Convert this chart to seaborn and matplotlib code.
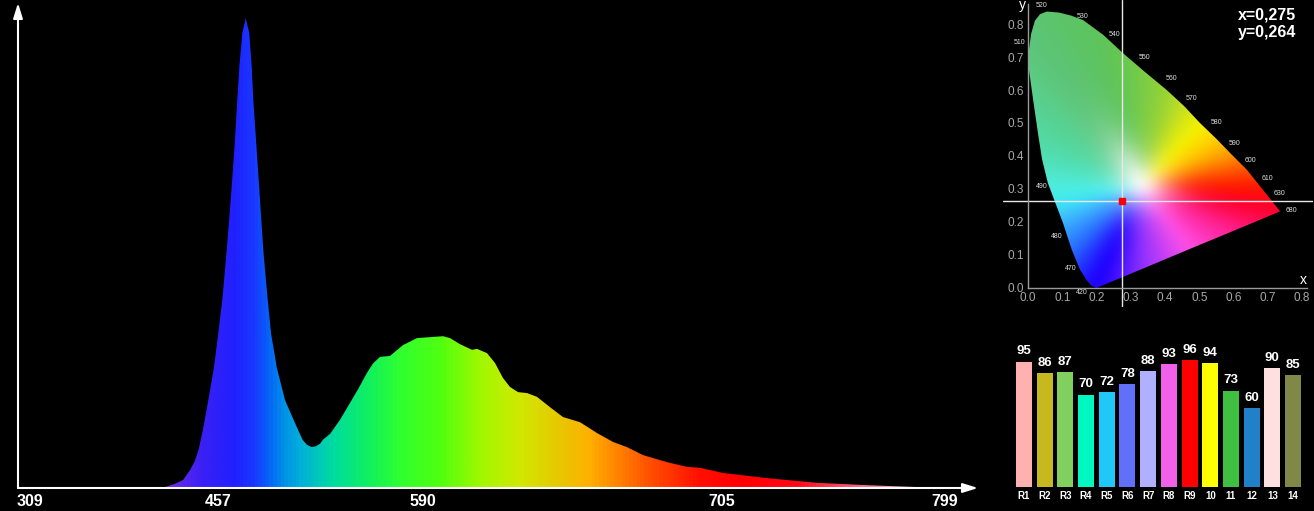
"""
LED spectrum + CIE 1931 chromaticity + CRI (R1..R14) panel
"""

import numpy as np
import matplotlib
matplotlib.use('Agg')
import matplotlib.pyplot as plt
from matplotlib.colors import LinearSegmentedColormap, to_rgb
from matplotlib.patches import Polygon
import seaborn as sns

# ========================================
# Data: spectrum (spectrometer channel -> relative intensity, %)
# ========================================
channel = [0, 132, 147, 157, 165, 172, 177, 181, 185, 190.3, 196, 200.3, 204.3,
           208.7, 212.7, 216.3, 219.3, 221.3, 224.3, 226.5, 227.7, 229, 231.3, 233.7,
           235.3, 238.7, 242, 245.3, 249.7, 253, 258.7, 267, 278.7, 284.7, 289, 293.7,
           298, 302, 305, 312, 322, 332, 340, 349, 355, 362, 372, 385, 399, 412, 425,
           432, 442, 454, 459, 469, 477, 485, 492, 500, 509, 519, 532, 545, 562, 579,
           595, 609, 625, 649, 669, 682, 705, 749, 799, 849, 899, 927, 960]
intensity = [0, 0, 0.2, 0.9, 1.7, 3.8, 5.8, 8.5, 12.5, 18.7, 25.7, 33, 40,
             50.6, 61.3, 71.9, 82.6, 89.6, 96.8, 98.8, 100, 98.8, 96.8, 89.6,
             82.6, 71.9, 61.3, 50.6, 40, 33, 25.7, 18.7, 13, 10.2, 9.2, 8.7,
             8.9, 9.4, 10.3, 11.5, 14.5, 18.1, 21, 24.5, 26.5, 27.9, 28.1, 30.4, 31.9, 32.1, 32.3,
             31.9, 30.6, 29.4, 29.6, 28.7, 26.6, 23.4, 21.5, 20.4, 20.2, 19.4, 17.2, 15.1, 14, 11.7,
             9.8, 8.7, 7, 5.5, 4.5, 4.3, 3.2, 2.1, 1.1, 0.6, 0.2, 0, 0]
tick_channels = [12, 200, 405, 704, 927]
tick_labels = ['309', '457', '590', '705', '799']

# colour ramp along the channel axis
grad_channels = [0, 132, 152, 182, 215, 235, 249, 265, 282, 315, 349, 382, 422,
                 462, 502, 542, 572, 602, 632, 682, 722, 782, 842, 892, 960]
grad_colors = ['#8a3ce0', '#8a3ce0', '#6a2ae8', '#3a20f5', '#2020ff', '#1838ff',
               '#0860f8', '#0090e8', '#00b0d8', '#00dca0', '#10f060', '#30ff30',
               '#50ff10', '#a0f800', '#d0e800', '#e8c800', '#ffb000', '#ff8000',
               '#ff5000', '#ff1000', '#ff0000', '#ff0818', '#ff6080', '#ffb0c0',
               '#ffffff']

# ========================================
# Data: CIE 1931 diagram
# ========================================
locus_x = [0.200, 0.186, 0.172, 0.152, 0.128, 0.102, 0.079, 0.058, 0.041, 0.029,
           0.015, 0.003, 0.000, 0.009, 0.020, 0.035, 0.055, 0.090, 0.125, 0.161,
           0.220, 0.277, 0.340, 0.405, 0.455, 0.502, 0.550, 0.590, 0.639, 0.686,
           0.736, 0.600, 0.470, 0.330]
locus_y = [0.000, 0.006, 0.022, 0.055, 0.115, 0.197, 0.260, 0.318, 0.390, 0.470,
           0.570, 0.660, 0.700, 0.770, 0.810, 0.830, 0.838, 0.835, 0.826, 0.812,
           0.767, 0.712, 0.656, 0.600, 0.552, 0.500, 0.452, 0.409, 0.358, 0.297,
           0.232, 0.173, 0.117, 0.056]
locus_colors = ['#1c00ff', '#1c00ff', '#2010ff', '#2430ff', '#2870ff', '#3cb0ff',
                '#40ecf4', '#50ecd8', '#50e0b8', '#54d8a0', '#58d090', '#5ccc84',
                '#5cc87c', '#5cc478', '#5cc474', '#5cc470', '#5cc46c', '#5cc468',
                '#5cc464', '#5cc460', '#60c458', '#68c850', '#7ccc44', '#98d434',
                '#c8e020', '#f4f400', '#ffd000', '#ffa000', '#ff5000', '#ff1000',
                '#ff0030', '#ff2090', '#ff50e8', '#9030ff']
white_x, white_y = 0.33, 0.31

wl_labels = ['520', '530', '540', '550', '560', '570', '580', '590', '510', '600',
             '610', '630', '680', '490', '480', '470', '420']
wl_x = [0.041, 0.158, 0.254, 0.339, 0.420, 0.476, 0.549, 0.604, -0.026, 0.648,
        0.698, 0.733, 0.768, 0.041, 0.085, 0.126, 0.158]
wl_y = [0.855, 0.824, 0.767, 0.700, 0.636, 0.573, 0.500, 0.439, 0.745, 0.385,
        0.333, 0.285, 0.236, 0.306, 0.155, 0.058, -0.015]

cie_x, cie_y = 0.275, 0.264

# ========================================
# Data: colour rendering indices
# ========================================
cri_labels = ['R1', 'R2', 'R3', 'R4', 'R5', 'R6', 'R7', 'R8', 'R9',
              '10', '11', '12', '13', '14']
cri_values = [95, 86, 87, 70, 72, 78, 88, 93, 96, 94, 73, 60, 90, 85]
cri_colors = ['#ffb0b0', '#c8b820', '#80d060', '#00f8c0', '#20c8f8', '#6070f8',
              '#b0b0ff', '#f060e8', '#ff0000', '#ffff00', '#40c040', '#2080c8',
              '#ffe0e0', '#808848']

W, H = 1314, 511


def blur(a, sigma):
    """separable gaussian blur of a 2D array"""
    r = int(3 * sigma)
    k = np.exp(-0.5 * (np.arange(-r, r + 1) / sigma) ** 2)
    k /= k.sum()
    f = lambda v: np.convolve(np.pad(v, r, mode='edge'), k, mode='valid')
    a = np.apply_along_axis(f, 0, a)
    return np.apply_along_axis(f, 1, a)


sns.set_style('dark', {'axes.facecolor': 'black', 'figure.facecolor': 'black'})
plt.rcParams['font.family'] = ['Liberation Sans', 'DejaVu Sans']

fig = plt.figure(figsize=(W / 100, H / 100), dpi=100, facecolor='black')

# ========================================
# 1. Spectrum
# ========================================
ax = fig.add_axes([18 / W, (H - 488) / H, 960 / W, 485 / H])
ax.set_facecolor('black')
ax.set_xlim(0, 960)
ax.set_ylim(0, 103.2)

cmap = LinearSegmentedColormap.from_list(
    'spec', [(c / grad_channels[-1], col) for c, col in zip(grad_channels, grad_colors)])
grad = cmap(np.linspace(0, 1, 960))[np.newaxis, :, :]
img = ax.imshow(grad, extent=[0, 960, 0, 103.2], aspect='auto', interpolation='bilinear')
verts = np.column_stack([channel + [channel[-1], channel[0]],
                         intensity + [0, 0]])
patch = Polygon(verts, closed=True, facecolor='none', edgecolor='none')
ax.add_patch(patch)
img.set_clip_path(patch)

for s in ax.spines.values():
    s.set_visible(False)
ax.set_yticks([])
ax.set_xticks(tick_channels, tick_labels)
ax.tick_params(axis='x', length=0, pad=4, colors='white', labelsize=11.5)
for lbl in ax.get_xticklabels():
    lbl.set_fontweight('bold')
ax.grid(False)

arrow = dict(arrowstyle='-|>,head_length=0.9,head_width=0.28', color='white',
             lw=1.5, shrinkA=0, shrinkB=0)
ax.annotate('', xy=(1, 0), xytext=(0, 0), xycoords='axes fraction', arrowprops=arrow,
            annotation_clip=False)
ax.annotate('', xy=(0, 1), xytext=(0, 0), xycoords='axes fraction', arrowprops=arrow,
            annotation_clip=False)

# ========================================
# 2. CIE chromaticity diagram
# ========================================
cx = fig.add_axes([1003 / W, (H - 307) / H, 310 / W, 307 / H])
cx.set_facecolor('black')
cx.set_xlim(-0.073, 0.832)
cx.set_ylim(-0.058, 0.873)
cx.grid(False)

# colour field: hue taken from the locus colour in the same direction,
# fading to white towards the white point, then softened
lx, ly = np.array(locus_x), np.array(locus_y)
lc = np.array([to_rgb(c) for c in locus_colors])
ang = np.arctan2(ly - white_y, lx - white_x)
rad = np.hypot(lx - white_x, ly - white_y)
o = np.argsort(ang)
gx, gy = np.meshgrid(np.linspace(0, 0.8, 320), np.linspace(0, 0.9, 360))
g_ang = np.arctan2(gy - white_y, gx - white_x)
g_rad = np.hypot(gx - white_x, gy - white_y)
edge_rad = np.interp(g_ang, ang[o], rad[o], period=2 * np.pi)
t = np.clip(g_rad / edge_rad, 0, 1)
mix = 1 - np.exp(-(t / 0.24) ** 1.6)
rgb = np.zeros(gx.shape + (3,))
for k in range(3):
    edge_col = np.interp(g_ang, ang[o], lc[o, k], period=2 * np.pi)
    rgb[..., k] = blur(mix * edge_col + (1 - mix), 7)
cie_img = cx.imshow(np.clip(rgb, 0, 1), extent=[0, 0.8, 0, 0.9], origin='lower',
                    aspect='auto', interpolation='bilinear')
locus_patch = Polygon(np.column_stack([lx, ly]), closed=True, facecolor='none',
                      edgecolor='none')
cx.add_patch(locus_patch)
cie_img.set_clip_path(locus_patch)

for side in ['top', 'right']:
    cx.spines[side].set_visible(False)
cx.spines['left'].set_position(('data', 0))
cx.spines['bottom'].set_position(('data', 0))
cx.spines['left'].set_bounds(0, 0.86)
cx.spines['bottom'].set_bounds(0, 0.815)
for side in ['left', 'bottom']:
    cx.spines[side].set_color('#9a9a9a')
    cx.spines[side].set_linewidth(1)
ticks = np.round(np.arange(0, 0.81, 0.1), 1)
cx.set_xticks(ticks, [f'{t:.1f}' for t in ticks])
cx.set_yticks(ticks, [f'{t:.1f}' for t in ticks])
cx.tick_params(direction='in', length=3, color='#9a9a9a', labelcolor='#a8a8a8',
               labelsize=8.5, pad=3)

for lab, x, y in zip(wl_labels, wl_x, wl_y):
    cx.text(x, y, lab, color='#e0e0e0', fontsize=5, ha='center', va='center')
cx.text(-0.015, 0.858, 'y', color='white', fontsize=10, ha='center', va='center')
cx.text(0.803, 0.024, 'x', color='white', fontsize=10, ha='center', va='center')

cx.axvline(cie_x, color='#e8e8e8', lw=1)
cx.axhline(cie_y, color='#e8e8e8', lw=1)
cx.plot(cie_x, cie_y, 's', color='red', ms=5, mec='red')
cx.text(0.782, 0.827, f'x={cie_x:.3f}'.replace('.', ','), color='white', fontsize=11.5,
        fontweight='bold', ha='right', va='center')
cx.text(0.782, 0.773, f'y={cie_y:.3f}'.replace('.', ','), color='white', fontsize=11.5,
        fontweight='bold', ha='right', va='center')

# ========================================
# 3. CRI bars
# ========================================
bx = fig.add_axes([1013.6 / W, (H - 487) / H, 289.8 / W, 132 / H])
bx.set_facecolor('black')
sns.barplot(x=cri_labels, y=cri_values, hue=cri_labels, palette=cri_colors,
            legend=False, width=0.77, saturation=1, linewidth=0, ax=bx)
bx.set_xlim(-0.5, 13.5)
bx.set_ylim(0, 100)
for s in bx.spines.values():
    s.set_visible(False)
bx.set_yticks([])
bx.set_xlabel('')
bx.set_ylabel('')
bx.grid(False)
bx.tick_params(axis='x', length=0, pad=3, colors='white', labelsize=7)
for lbl in bx.get_xticklabels():
    lbl.set_fontweight('bold')
for cont in bx.containers:
    bx.bar_label(cont, fmt='%d', padding=3, color='white', fontsize=9.5,
                 fontweight='bold')

fig.savefig('out.png', dpi=100, facecolor='black')
